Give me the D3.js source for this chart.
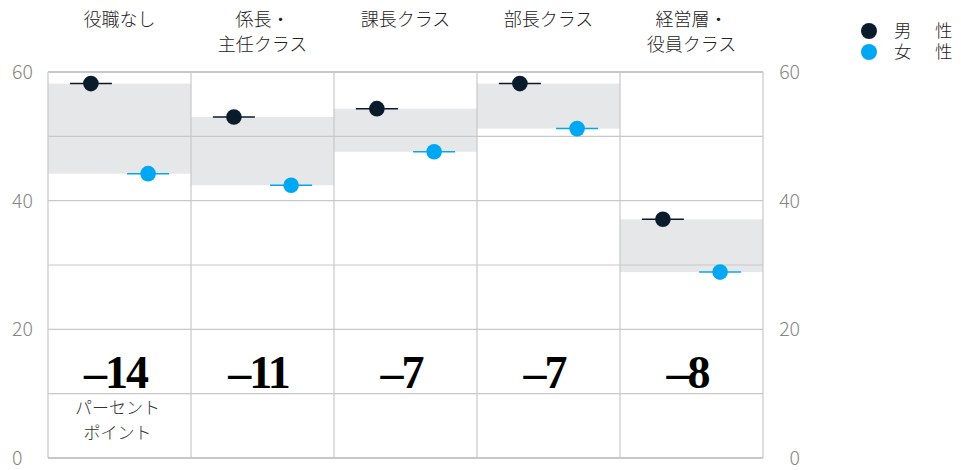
<!DOCTYPE html>
<html><head><meta charset="utf-8">
<script src="https://cdn.jsdelivr.net/npm/d3@7"></script>
<style>
html,body{margin:0;padding:0;background:#fff;}
svg{display:block;}
</style></head>
<body>
<svg id="chart" width="961" height="470"></svg>
<script>
const categories = [["役職なし"], ["係長・", "主任クラス"], ["課長クラス"], ["部長クラス"], ["経営層・", "役員クラス"]];
const maleValues = [58.2, 53.0, 54.3, 58.2, 37.1];
const femaleValues = [44.2, 42.4, 47.6, 51.2, 28.9];
const gapLabels = ["–14", "–11", "–7", "–7", "–8"];
const yTicks = [0, 20, 40, 60];
const gridValues = [0, 10, 20, 30, 40, 50, 60];
const seriesNames = ["男　性", "女　性"];
const unitLabel = ["パーセント", "ポイント"];

(function() {
const colors = { male: "#0a1b2c", female: "#00a8f3", band: "#e6e7e8", grid: "#c8c8c8" };
const svg = d3.select("#chart");
const mLeft = 48, mRight = 763, mTop = 72, mBottom = 458;

const x = d3.scaleBand().domain(d3.range(categories.length)).range([mLeft, mRight]).padding(0);
const y = d3.scaleLinear().domain([0, 60]).range([mBottom, mTop]);
const bw = x.bandwidth();
const font = "'Noto Sans CJK JP', 'Noto Sans', sans-serif";

// bands
svg.append("g").selectAll("rect").data(d3.range(categories.length)).join("rect")
  .attr("x", i => x(i)).attr("width", bw)
  .attr("y", i => y(maleValues[i])).attr("height", i => y(femaleValues[i]) - y(maleValues[i]))
  .attr("fill", colors.band);

// horizontal grid
svg.append("g").selectAll("line").data(gridValues).join("line")
  .attr("x1", mLeft).attr("x2", mRight)
  .attr("y1", d => y(d)).attr("y2", d => y(d))
  .attr("stroke", colors.grid).attr("stroke-width", d => (d === 0 || d === 60) ? 2 : 1.2);

// vertical dividers
svg.append("g").selectAll("line").data(d3.range(categories.length + 1)).join("line")
  .attr("x1", i => mLeft + i * bw).attr("x2", i => mLeft + i * bw)
  .attr("y1", mTop).attr("y2", mBottom)
  .attr("stroke", colors.grid).attr("stroke-width", 1.2);

// y tick labels
svg.append("g").selectAll("text").data(yTicks).join("text")
  .attr("x", 12).attr("y", d => y(d)).attr("dy", "0.36em")
  .attr("text-anchor", "start").attr("font-family", font).attr("font-weight", 300)
  .attr("font-size", 19.5).attr("fill", "#858585").text(d => d);
svg.append("g").selectAll("text").data(yTicks).join("text")
  .attr("x", 800).attr("y", d => y(d)).attr("dy", "0.36em")
  .attr("text-anchor", "end").attr("font-family", font).attr("font-weight", 300)
  .attr("font-size", 19.5).attr("fill", "#858585").text(d => d);

// category labels
const cat = svg.append("g").selectAll("text").data(categories).join("text")
  .attr("text-anchor", "middle").attr("font-family", font).attr("font-size", 18)
  .attr("font-weight", 300).attr("fill", "#222");
cat.each(function(lines, i) {
  d3.select(this).selectAll("tspan").data(lines).join("tspan")
    .attr("x", x(i) + bw / 2).attr("y", (d, j) => 26 + j * 25).text(d => d);
});

// dots with whiskers
const series = [
  { vals: maleValues, pos: 0.3, color: colors.male },
  { vals: femaleValues, pos: 0.7, color: colors.female }
];
series.forEach(s => {
  const g = svg.append("g");
  g.selectAll("line").data(s.vals).join("line")
    .attr("x1", (d, i) => x(i) + bw * s.pos - 21).attr("x2", (d, i) => x(i) + bw * s.pos + 21)
    .attr("y1", d => y(d)).attr("y2", d => y(d))
    .attr("stroke", s.color).attr("stroke-width", 1.5);
  g.selectAll("circle").data(s.vals).join("circle")
    .attr("cx", (d, i) => x(i) + bw * s.pos).attr("cy", d => y(d)).attr("r", 7.8)
    .attr("fill", s.color);
});

// gap labels
svg.append("g").selectAll("text").data(gapLabels).join("text")
  .attr("x", (d, i) => x(i) + bw / 2 - 4).attr("y", 388)
  .attr("text-anchor", "middle").attr("font-family", "'Liberation Serif', 'DejaVu Serif', serif")
  .attr("font-weight", "bold").attr("font-size", 46).attr("letter-spacing", -2)
  .attr("fill", "#000").text(d => d);

// unit label
svg.append("text").attr("text-anchor", "middle").attr("font-family", font)
  .attr("font-size", 17).attr("fill", "#333").attr("font-weight", 300)
  .selectAll("tspan").data(unitLabel).join("tspan")
  .attr("x", x(0) + bw / 2 - 2).attr("y", (d, j) => 414 + j * 25).text(d => d);

// legend
const leg = svg.append("g");
[colors.male, colors.female].forEach((c, i) => {
  leg.append("circle").attr("cx", 869).attr("cy", 31 + i * 21).attr("r", 8).attr("fill", c);
  leg.append("text").attr("x", 894).attr("y", 31 + i * 21).attr("dy", "0.36em")
    .attr("font-family", font).attr("font-size", 17.5).attr("letter-spacing", 3)
    .attr("font-weight", 300).attr("fill", "#222").text(seriesNames[i]);
});
})();
</script>
</body></html>
